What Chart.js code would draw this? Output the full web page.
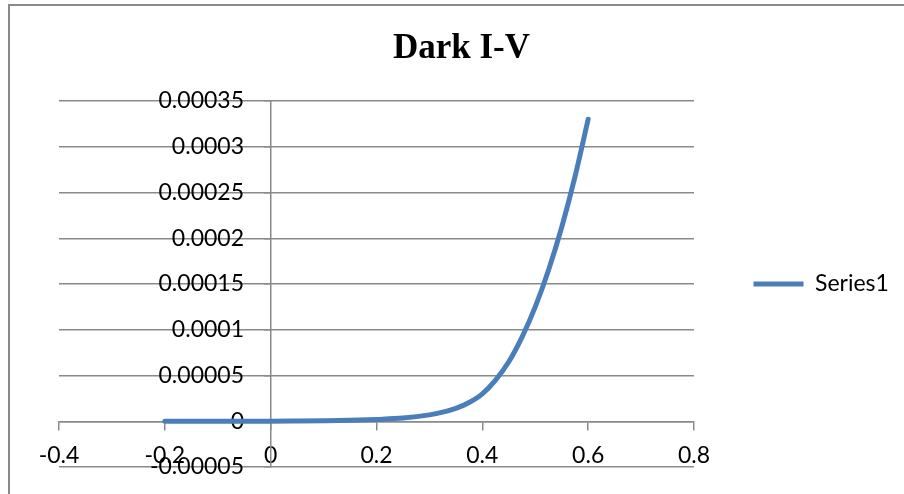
<!DOCTYPE html>
<html><head><meta charset="utf-8">
<script src="https://cdn.jsdelivr.net/npm/chart.js@4.4.1/dist/chart.umd.min.js"></script>
<style>
html,body{margin:0;padding:0;background:#fff;overflow:hidden;}
#wrap{position:relative;width:904px;height:494px;overflow:hidden;}
#frame{position:absolute;left:8px;top:4px;width:1000px;height:1000px;border-left:2px solid #898989;border-top:2px solid #898989;}
canvas{position:absolute;left:0;top:0;}
</style></head><body>
<div id="wrap"><div id="frame"></div><canvas id="c" width="904" height="494"></canvas></div>
<script>
const chartTitle = 'Dark I-V';
const seriesName = 'Series1';
const voltage = [-0.2, -0.15, -0.1, -0.05, 0, 0.05, 0.1, 0.15, 0.2, 0.25, 0.3, 0.325, 0.35, 0.375, 0.4, 0.425, 0.45, 0.475, 0.5, 0.525, 0.55, 0.575, 0.6];
const current = [0, 0, 0, 0, 0, 0.0000002, 0.0000005, 0.000001, 0.000002, 0.0000035, 0.000007, 0.0000099, 0.000014, 0.0000205, 0.00003, 0.000045, 0.000065, 0.000092, 0.000125, 0.000165, 0.000212, 0.000267, 0.00033];
const xTickLabels = ['-0.4', '-0.2', '0', '0.2', '0.4', '0.6', '0.8'];
const yTickLabels = ['-0.00005', '0', '0.00005', '0.0001', '0.00015', '0.0002', '0.00025', '0.0003', '0.00035'];

const FONT = 'Lato';
const FS = 23;
const GRID = '#8a8a8a';

// layout helpers (chart area target: left 59, right 694, top 101, bottom 467)
const mctx = document.createElement('canvas').getContext('2d');
mctx.font = FS + 'px ' + FONT;
const legendTextW = mctx.measureText(seriesName).width;
const legendPad = 59.5, legendLine = 50;
const legendW = legendPad + legendLine + FS / 2 + legendTextW + 10;
const padR = Math.max(0, 210 - legendW);
const padL = 19 + padR;
const yLabelOffset = (59 + 694) / 2 - 244;

Chart.defaults.font.family = FONT;
Chart.defaults.color = '#000';

new Chart(document.getElementById('c'), {
  type: 'line',
  data: {
    datasets: [{
      label: seriesName,
      data: voltage.map((v, i) => ({x: v, y: current[i]})),
      borderColor: '#4a7ebb',
      backgroundColor: '#4a7ebb',
      borderWidth: 5,
      borderCapStyle: 'round',
      borderJoinStyle: 'round',
      pointRadius: 0,
      cubicInterpolationMode: 'monotone',
      fill: false
    }]
  },
  options: {
    responsive: false,
    animation: false,
    events: [],
    layout: {padding: {left: padL, right: padR, top: 0, bottom: 27}},
    plugins: {
      title: {
        display: true,
        text: chartTitle,
        color: '#000',
        font: {family: 'Liberation Serif', size: 35, weight: 'bold', lineHeight: 1.2},
        padding: {top: 28, bottom: 31}
      },
      legend: {
        display: true,
        position: 'right',
        fullSize: false,
        maxWidth: 400,
        labels: {
          usePointStyle: true,
          pointStyle: 'line',
          pointStyleWidth: legendLine,
          padding: legendPad,
          color: '#000',
          font: {family: FONT, size: FS}
        }
      },
      tooltip: {enabled: false}
    },
    scales: {
      x: {
        type: 'linear',
        position: {y: 0},
        min: -0.4, max: 0.8,
        ticks: {stepSize: 0.2, padding: 13, font: {size: FS}, color: '#000',
          callback: (v, i) => xTickLabels[i]},
        grid: {drawOnChartArea: false, drawTicks: true, tickLength: 8, color: GRID, lineWidth: 1.5},
        border: {display: true, color: GRID, width: 1.5}
      },
      y: {
        type: 'linear',
        position: {x: 0},
        min: -0.00005, max: 0.00035,
        ticks: {display: false, stepSize: 0.00005},
        grid: {drawOnChartArea: true, drawTicks: true, tickLength: 6, color: GRID, lineWidth: 1.5},
        border: {display: true, color: GRID, width: 1.5}
      },
      ylab: {
        type: 'linear',
        position: 'center',
        min: -0.00005, max: 0.00035,
        ticks: {stepSize: 0.00005, padding: 0, font: {size: FS}, color: '#000',
          callback: (v, i) => yTickLabels[i]},
        grid: {display: true, drawOnChartArea: false, drawTicks: true, tickLength: yLabelOffset, color: 'rgba(0,0,0,0)'},
        border: {display: false}
      },
      pad: {
        type: 'linear',
        position: 'left',
        ticks: {display: false},
        grid: {display: false, drawTicks: false},
        border: {display: false},
        afterFit: s => { s.width = 59 - padL; }
      }
    }
  }
});
</script>
</body></html>
